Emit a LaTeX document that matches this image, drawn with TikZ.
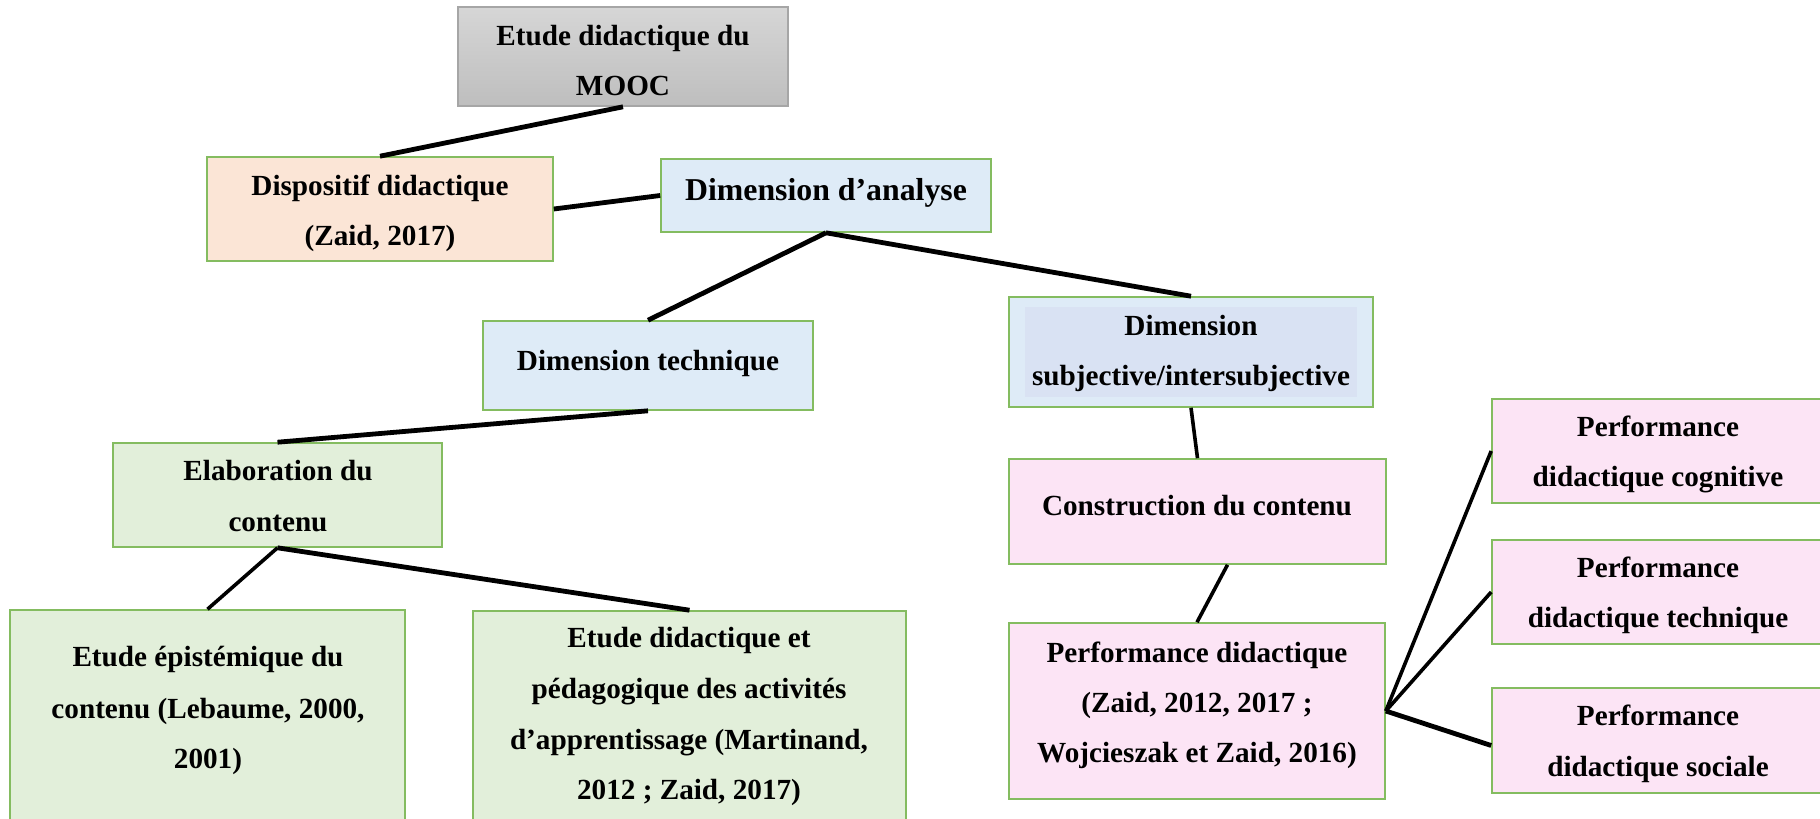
\documentclass[tikz,border=0pt]{standalone}
\usepackage{fontspec}
\setmainfont{Liberation Serif}
\usetikzlibrary{fit,calc}
\definecolor{gbord}{HTML}{84BC60}
\definecolor{peach}{HTML}{FBE5D6}
\definecolor{lblue}{HTML}{DEEBF7}
\definecolor{iblue}{HTML}{D9E2F3}
\definecolor{lgreen}{HTML}{E2EFDA}
\definecolor{lpink}{HTML}{FCE4F5}
\definecolor{gtop}{HTML}{D6D6D6}
\definecolor{gbot}{HTML}{BEBEBE}
\definecolor{gbd}{HTML}{A6A6A6}
\begin{document}
\begin{tikzpicture}[x=0.5pt,y=-0.5pt,
  box/.style={draw=gbord, line width=0.8pt, inner sep=0pt, rectangle},
  txt/.style={anchor=base, inner sep=0pt, font=\fontsize{14.6}{17}\selectfont\bfseries},
  big/.style={anchor=base, inner sep=0pt, font=\fontsize{15.9}{19}\selectfont\bfseries},
  link/.style={line width=2.4pt, black},
  thinlink/.style={line width=1.8pt, black}]
\useasboundingbox (0,0) rectangle (1820,819);
% boxes
\node[box, draw=gbd, top color=gtop, bottom color=gbot, fit={(458,7) (788,106)}] (mooc) {};
\node[box, fill=peach, fit={(207,157) (553,261)}] (dispo) {};
\node[box, fill=lblue, fit={(661,159) (991,232)}] (da) {};
\node[box, fill=lblue, fit={(483,321) (813,410)}] (dt) {};
\node[box, fill=lblue, fit={(1009,297) (1373,407)}] (ds) {};
\node[fill=iblue, inner sep=0pt, fit={(1025,307) (1357,397)}] (dsin) {};
\node[box, fill=lgreen, fit={(113,443) (442,547)}] (elab) {};
\node[box, fill=lgreen, fit={(10,610) (405,830)}] (ee) {};
\node[box, fill=lgreen, fit={(473,611) (906,830)}] (ed) {};
\node[box, fill=lpink, fit={(1009,459) (1386,564)}] (cons) {};
\node[box, fill=lpink, fit={(1009,623) (1385,799)}] (pd) {};
\node[box, fill=lpink, fit={(1492,399) (1824,503)}] (pc) {};
\node[box, fill=lpink, fit={(1492,540) (1824,644)}] (pt) {};
\node[box, fill=lpink, fit={(1492,688) (1824,793)}] (ps) {};
% connectors
\draw[link] (mooc.south) -- (dispo.north);
\draw[link] (dispo.east) -- (da.west);
\draw[link] (da.south) -- (dt.north);
\draw[link] (da.south) -- (ds.north);
\draw[link] (dt.south) -- (elab.north);
\draw[thinlink] (elab.south) -- (ee.north);
\draw[link] (elab.south) -- (ed.north);
\draw[thinlink] (ds.south) -- (cons.north);
\coordinate (consb) at ($(cons.south)+(30,0)$);
\draw[thinlink] (consb) -- (pd.north);
\draw[thinlink] (pd.east) -- (pc.west);
\draw[thinlink] (pd.east) -- (pt.west);
\coordinate (psin) at ($(ps.west)+(0,5)$);
\draw[link] (pd.east) -- (psin);
% texts
\node[txt] (t1a) at (623,45) {Etude didactique du};
\node[txt] (t1b) at (623,95) {MOOC};
\node[txt] (t2a) at (380,195) {Dispositif didactique};
\node[txt] (t2b) at (380,245) {(Zaid, 2017)};
\node[big] (t3) at (826,200) {Dimension d’analyse};
\node[txt] (t4) at (648,370) {Dimension technique};
\node[txt] (t5a) at (1191,335) {Dimension};
\node[txt] (t5b) at (1191,385) {subjective/intersubjective};
\node[txt] (t6a) at (278,480) {Elaboration du};
\node[txt] (t6b) at (278,531) {contenu};
\node[txt] (t7a) at (208,666) {Etude épistémique du};
\node[txt] (t7b) at (208,718) {contenu (Lebaume, 2000,};
\node[txt] (t7c) at (208,768) {2001)};
\node[txt] (t8a) at (689,647) {Etude didactique et};
\node[txt] (t8b) at (689,698) {pédagogique des activités};
\node[txt] (t8c) at (689,749) {d’apprentissage (Martinand,};
\node[txt] (t8d) at (689,799) {2012 ; Zaid, 2017)};
\node[txt] (t9) at (1197,515) {Construction du contenu};
\node[txt] (t10a) at (1197,662) {Performance didactique};
\node[txt] (t10b) at (1197,712) {(Zaid, 2012, 2017 ;};
\node[txt] (t10c) at (1197,762) {Wojcieszak et Zaid, 2016)};
\node[txt] (t11a) at (1658,436) {Performance};
\node[txt] (t11b) at (1658,486) {didactique cognitive};
\node[txt] (t12a) at (1658,577) {Performance};
\node[txt] (t12b) at (1658,627) {didactique technique};
\node[txt] (t13a) at (1658,725) {Performance};
\node[txt] (t13b) at (1658,776) {didactique sociale};
\end{tikzpicture}
\end{document}
